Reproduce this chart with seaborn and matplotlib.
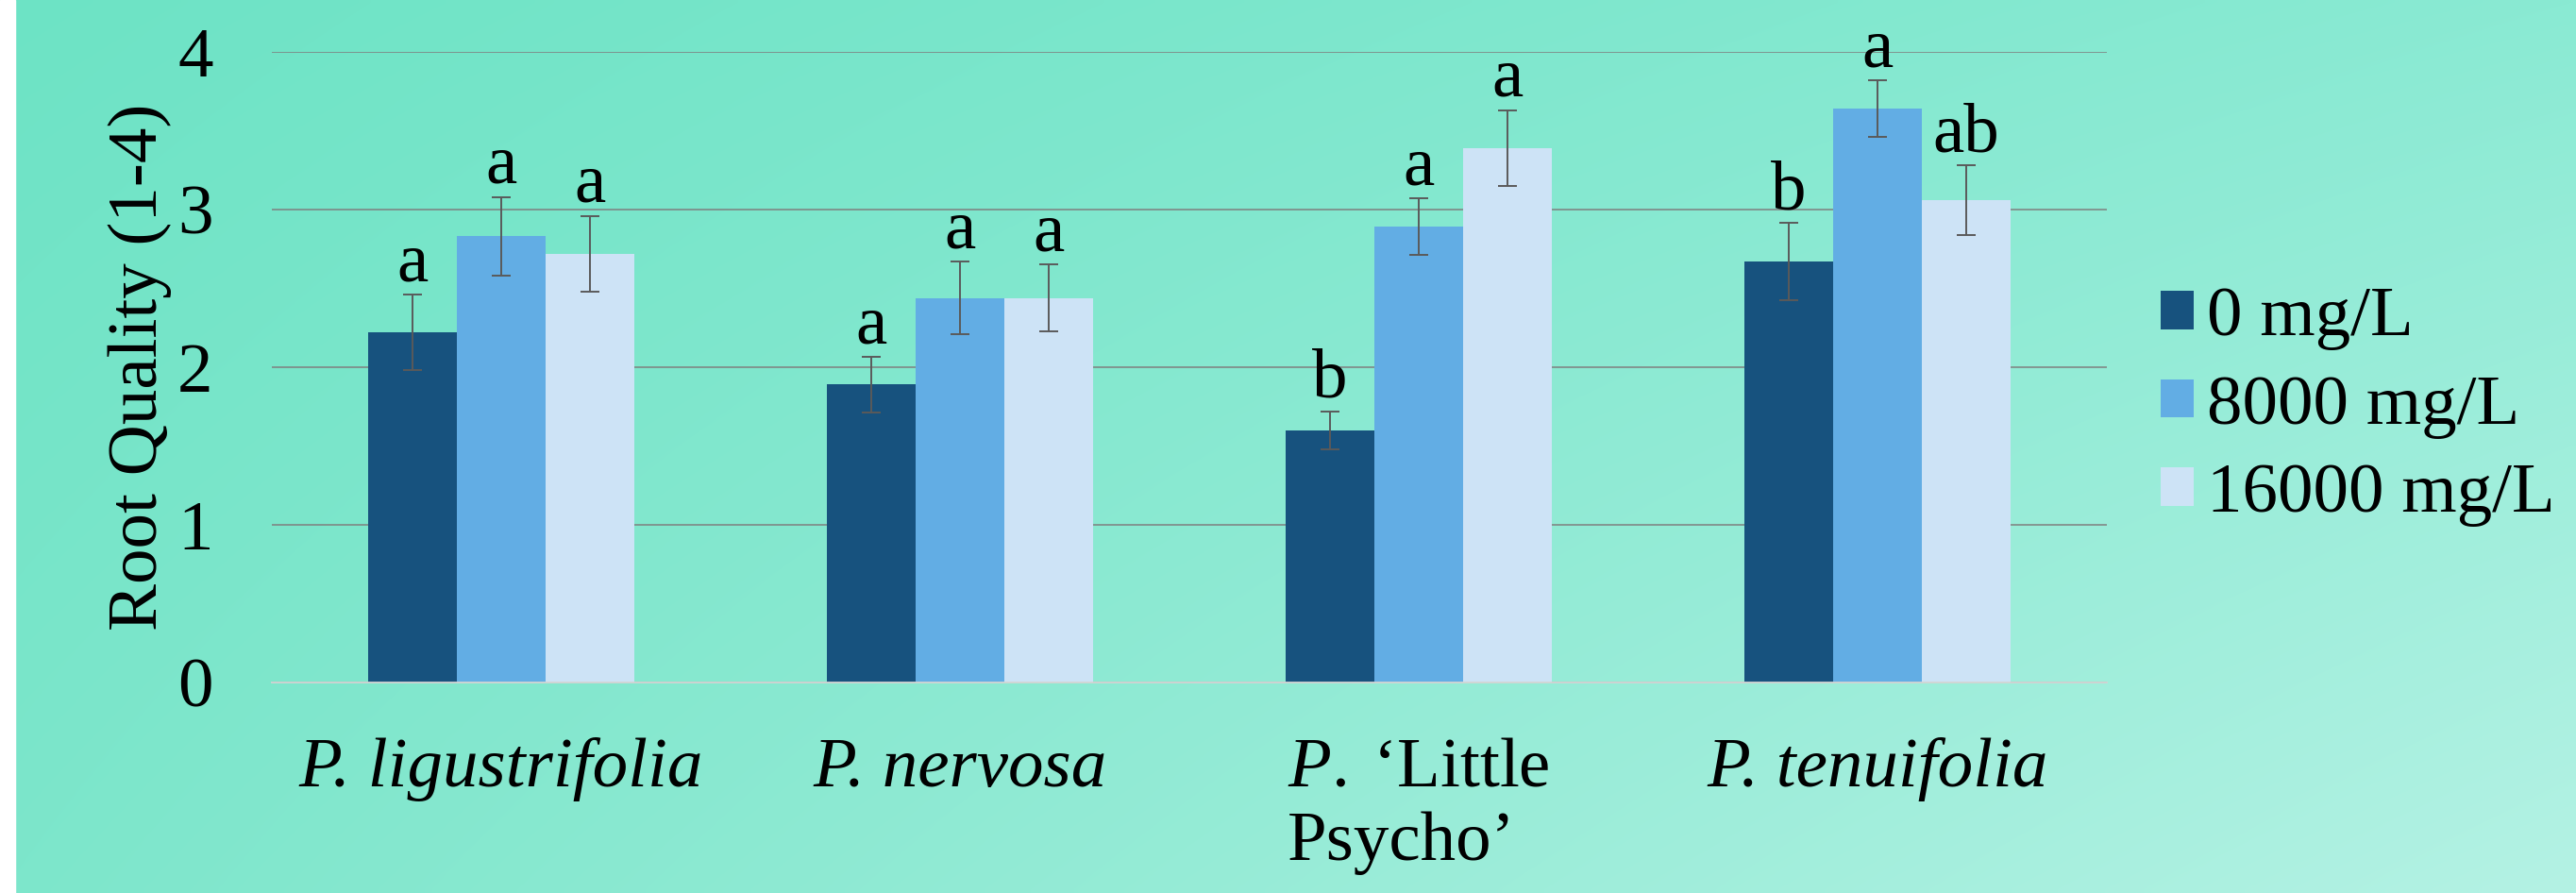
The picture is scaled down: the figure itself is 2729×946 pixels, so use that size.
import numpy as np
import pandas as pd
import matplotlib
matplotlib.use("Agg")
import matplotlib.pyplot as plt
from matplotlib.patches import Rectangle
import seaborn as sns

# Root quality ratings by species and IBA treatment
species = ["P. ligustrifolia", "P. nervosa", "P. 'Little Psycho'", "P. tenuifolia"]
tick_labels = [
    "P. ligustrifolia",
    "P. nervosa",
    "$\\mathit{P.}$\u2009\u2018Little\nPsycho\u2019",
    "P. tenuifolia",
]
italic_label = [True, True, False, True]
treatments = ["0 mg/L", "8000 mg/L", "16000 mg/L"]

mean_0 = [2.22, 1.89, 1.60, 2.67]
mean_8000 = [2.83, 2.44, 2.89, 3.64]
mean_16000 = [2.72, 2.44, 3.39, 3.06]

se_0 = [0.24, 0.175, 0.12, 0.245]
se_8000 = [0.25, 0.23, 0.18, 0.18]
se_16000 = [0.24, 0.21, 0.24, 0.22]

letters_0 = ["a", "a", "b", "b"]
letters_8000 = ["a", "a", "a", "a"]
letters_16000 = ["a", "a", "a", "ab"]

colors = ["#17527e", "#62ade4", "#cde3f6"]

means = [mean_0, mean_8000, mean_16000]
ses = [se_0, se_8000, se_16000]
letters = [letters_0, letters_8000, letters_16000]

df = pd.DataFrame({
    "species": np.tile(species, len(treatments)),
    "treatment": np.repeat(treatments, len(species)),
    "quality": np.concatenate(means),
})

sns.set_theme(style="white")
plt.rcParams["font.family"] = ["Liberation Serif", "DejaVu Serif"]
plt.rcParams["mathtext.fontset"] = "custom"
plt.rcParams["mathtext.rm"] = "Liberation Serif"
plt.rcParams["mathtext.it"] = "Liberation Serif:italic"
plt.rcParams["text.color"] = "black"
plt.rcParams["axes.labelcolor"] = "black"
plt.rcParams["xtick.color"] = "black"
plt.rcParams["ytick.color"] = "black"

FS = 54
W, H = 2729, 946
fig = plt.figure(figsize=(W / 100, H / 100), dpi=100)

# soft diagonal gradient backdrop
bg = fig.add_axes([0, 0, 1, 1], zorder=-10)
tl = np.array([0x6d, 0xe3, 0xc5]) / 255
tr = np.array([0x8a, 0xea, 0xd3]) / 255
bl = np.array([0x7d, 0xe6, 0xcb]) / 255
br = np.array([0xb4, 0xf2, 0xe4]) / 255
u = np.linspace(0, 1, 300)[None, :, None]
v = np.linspace(0, 1, 120)[:, None, None]
grad = (1 - v) * ((1 - u) * tl + u * tr) + v * ((1 - u) * bl + u * br)
bg.imshow(grad, extent=[0, 1, 0, 1], aspect="auto", interpolation="bilinear")
bg.add_patch(Rectangle((0, 0), 16 / W, 1, color="white", zorder=5))
bg.set_xlim(0, 1)
bg.set_ylim(0, 1)
bg.axis("off")

ax = fig.add_axes([288 / W, 1 - 723 / H, (2232 - 288) / W, (723 - 55) / H])
ax.set_facecolor("none")

sns.barplot(
    data=df, x="species", y="quality", hue="treatment",
    order=species, hue_order=treatments, palette=colors,
    errorbar=None, width=0.58, saturation=1, linewidth=0, ax=ax, legend=True,
)

for container, se, lab in zip(ax.containers, ses, letters):
    for bar, e, t in zip(container, se, lab):
        x = bar.get_x() + bar.get_width() / 2
        y = bar.get_height()
        ax.errorbar(x, y, yerr=e, fmt="none", ecolor="#5a5a5a",
                    elinewidth=1.4, capsize=7, capthick=1.4, zorder=4)
        ax.text(x, y + e + 0.09, t, ha="center", va="baseline",
                fontsize=FS, color="black", zorder=5)

ax.set_ylim(0, 4)
ax.set_yticks([0, 1, 2, 3, 4])
ax.set_xlim(-0.5, 3.5)
ax.yaxis.grid(True, color="#7f7f7f", linewidth=1.1)
ax.set_axisbelow(True)
for s in ["top", "right", "left"]:
    ax.spines[s].set_visible(False)
ax.spines["bottom"].set_color("#d4d4d4")
ax.spines["bottom"].set_linewidth(1.3)
ax.spines["bottom"].set_zorder(3)

ax.set_xticks(range(len(species)))
ax.set_xticklabels(tick_labels)
ax.tick_params(axis="x", length=0, pad=42, labelsize=FS)
ax.tick_params(axis="y", length=0, pad=45, labelsize=FS)
for lbl, it in zip(ax.get_xticklabels(), italic_label):
    lbl.set_verticalalignment("top")
    lbl.set_multialignment("left")
    if it:
        lbl.set_fontstyle("italic")

ax.set_xlabel("")
ax.set_ylabel("Root Quality (1-4)", fontsize=FS, labelpad=4)

ax.legend(
    title=None, frameon=False, fontsize=FS, loc="center left",
    bbox_to_anchor=(2289 / W, 1 - 431 / H), bbox_transform=fig.transFigure,
    borderpad=0, borderaxespad=0, handlelength=0.46, handleheight=0.46,
    handletextpad=0.2, labelspacing=0.35,
)

fig.savefig("out.png", dpi=100)
